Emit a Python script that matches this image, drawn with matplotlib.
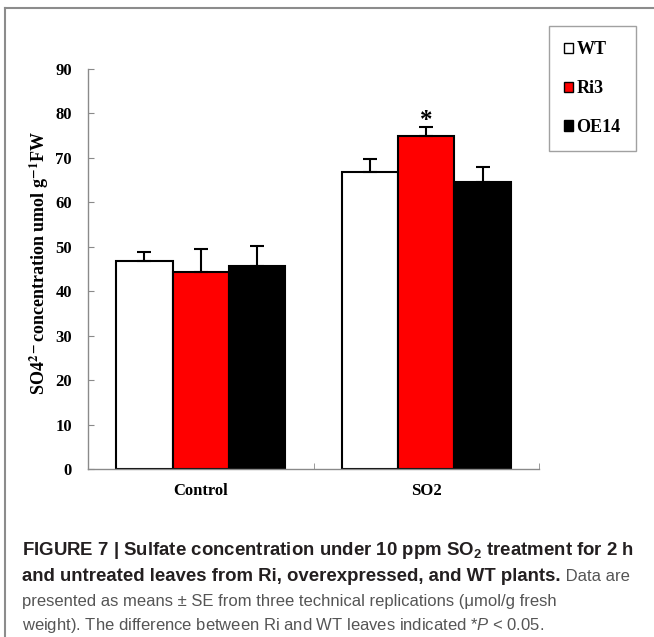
import numpy as np
import matplotlib
matplotlib.use("Agg")
from matplotlib import pyplot as plt
from matplotlib.lines import Line2D
from matplotlib.patches import Patch

# data
groups = ["Control", "SO2"]
series = ["WT", "Ri3", "OE14"]
means = {
    "WT": [46.8, 66.9],
    "Ri3": [44.4, 74.9],
    "OE14": [45.6, 64.5],
}
errors = {
    "WT": [2.0, 2.9],
    "Ri3": [5.1, 2.1],
    "OE14": [4.6, 3.4],
}
colors = {"WT": "white", "Ri3": "#ff0000", "OE14": "black"}
yticks = [0, 10, 20, 30, 40, 50, 60, 70, 80, 90]

plt.rcParams["mathtext.fontset"] = "custom"
plt.rcParams["mathtext.rm"] = "Liberation Sans"
plt.rcParams["mathtext.bf"] = "Liberation Sans:bold"
plt.rcParams["mathtext.it"] = "Liberation Sans:italic"

SERIF = "Liberation Serif"
SANS = "Liberation Sans"

fig = plt.figure(figsize=(6.54, 6.37), dpi=100)
ax = fig.add_axes([0.1346, 0.2637, 0.6896, 0.628])

x = np.arange(len(groups))
width = 0.25
for i, name in enumerate(series):
    pos = x + (i - 1) * width
    ax.bar(pos, means[name], width, color=colors[name], edgecolor="black",
           linewidth=1.5, zorder=2)
    ax.errorbar(pos, means[name], yerr=[np.zeros(len(groups)), errors[name]],
                fmt="none", ecolor="black", elinewidth=1.5, capsize=5,
                capthick=1.5, zorder=3)

# significance mark over Ri3 / SO2
ri = series.index("Ri3")
ax.text(x[1] + (ri - 1) * width, means["Ri3"][1] + errors["Ri3"][1] + 1.4, "*",
        ha="center", va="center", fontsize=18, fontweight="bold", family=SERIF)

ax.set_xlim(-0.5, 1.5)
ax.set_ylim(0, 90)
ax.set_yticks(yticks)
ax.set_xticks(x)
ax.set_xticklabels(groups)
ax.set_xticks([0.5, 1.5], minor=True)

for s in ["top", "right"]:
    ax.spines[s].set_visible(False)
for s in ["left", "bottom"]:
    ax.spines[s].set_color("#8a8a8a")
    ax.spines[s].set_linewidth(1.0)

ax.tick_params(axis="y", direction="in", length=4, color="#8a8a8a", pad=11.5)
ax.tick_params(axis="x", which="major", length=0, pad=10)
ax.tick_params(axis="x", which="minor", direction="in", length=4, color="#8a8a8a")
for lab in ax.get_yticklabels() + ax.get_xticklabels():
    lab.set_fontfamily(SERIF)
    lab.set_fontweight("bold")
    lab.set_fontsize(12)

ax.set_ylabel(r"SO4$^{\mathbf{2-}}$concentration umol g$^{\mathbf{-1}}$FW",
              fontfamily=SERIF, fontweight="bold", fontsize=13,
              math_fontfamily="stix")
ax.yaxis.set_label_coords(-0.082, 0.515)

handles = [Patch(facecolor=colors[n], edgecolor="black", linewidth=1.0) for n in series]
leg = fig.legend(handles, series, loc="upper right",
                 bbox_to_anchor=(0.9725, 0.959), frameon=True, fancybox=False,
                 edgecolor="#8a8a8a", handlelength=0.5, handleheight=0.5,
                 handletextpad=0.2, labelspacing=1.2, borderpad=0.85,
                 borderaxespad=0, prop={"family": SERIF, "weight": "bold", "size": 13})
leg.get_frame().set_linewidth(1.0)

# outer frame lines (top and left)
fig.add_artist(Line2D([0.008, 1.0], [0.987, 0.987], color="#8c8c8c", lw=1.5,
                      transform=fig.transFigure))
fig.add_artist(Line2D([0.008, 0.008], [0.0, 0.987], color="#8c8c8c", lw=1.5,
                      transform=fig.transFigure))

# caption
dark = "#231f20"
grey = "#555555"
cx = 22 / 654
fs_bold = 13.4
fs_reg = 12
fig.text(cx, 1 - 555 / 637,
         r"FIGURE 7 | Sulfate concentration under 10 ppm SO$_\mathbf{2}$ treatment for 2 h",
         family=SANS, fontweight="bold", fontsize=fs_bold, color=dark, va="baseline")
line2_y = 1 - 581 / 637
t2 = fig.text(cx, line2_y,
              "and untreated leaves from Ri, overexpressed, and WT plants.",
              family=SANS, fontweight="bold", fontsize=fs_bold, color=dark,
              va="baseline")
bb = t2.get_window_extent(fig.canvas.get_renderer())
fig.text(bb.x1 / fig.bbox.width, line2_y, " Data are",
         family=SANS, fontsize=fs_reg, color=grey, va="baseline")
fig.text(cx, 1 - 606 / 637,
         "presented as means \u00b1 SE from three technical replications (\u03bcmol/g fresh",
         family=SANS, fontsize=fs_reg, color=grey, va="baseline")
fig.text(cx, 1 - 630 / 637,
         r"weight). The difference between Ri and WT leaves indicated *$\mathit{P}$ < 0.05.",
         family=SANS, fontsize=fs_reg, color=grey, va="baseline")

fig.savefig("out.png", dpi=100)
